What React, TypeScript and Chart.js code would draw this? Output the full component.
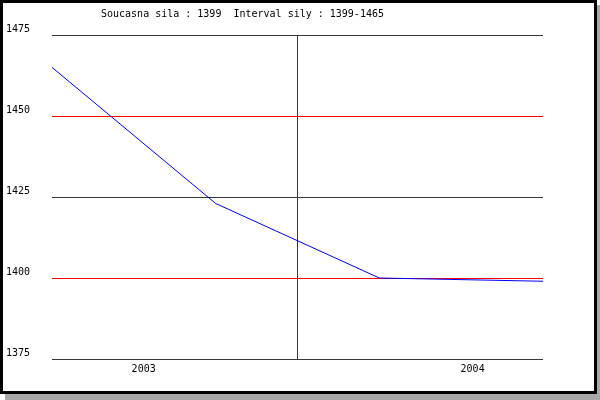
import React, { useEffect, useRef } from "react";
import { Chart, registerables } from "chart.js";

Chart.register(...registerables);

const titleText = "Soucasna sila : 1399  Interval sily : 1399-1465";
const pointIndex = [0, 1, 2, 3];
const ratingValues = [1465, 1423, 1400, 1399];
const yTicks = [1475, 1450, 1425, 1400, 1375];
const redLines = [1450, 1400];
const yearLabels = ["2003", "2004"];
const yearPositions = [0.56, 2.57];
const yearDivider = [1.496];

const MONO = '10px "DejaVu Sans Mono", "Liberation Mono", monospace';

const framePlugin = {
  id: "frame",
  beforeDraw(chart: any) {
    const ctx = chart.ctx;
    const W = chart.width;
    const H = chart.height;
    ctx.save();
    ctx.fillStyle = "#ffffff";
    ctx.fillRect(0, 0, W, H);
    ctx.fillStyle = "#a8a8a8";
    ctx.fillRect(5, 5, W - 5, H - 5);
    ctx.fillStyle = "#000000";
    ctx.fillRect(0, 0, 597, 394);
    ctx.fillStyle = "#ffffff";
    ctx.fillRect(3, 3, 591, 388);

    const ys = chart.scales.y;
    const xs = chart.scales.x;
    const left = chart.chartArea.left;
    const right = chart.chartArea.right;
    const top = chart.chartArea.top;
    const bottom = chart.chartArea.bottom;

    ctx.fillStyle = "#383838";
    yearDivider.forEach((v) => {
      const px = Math.round(xs.getPixelForValue(v));
      ctx.fillRect(px, top, 1, bottom - top);
    });

    yTicks.forEach((v) => {
      const py = Math.round(ys.getPixelForValue(v));
      ctx.fillStyle = redLines.includes(v) ? "#ff0000" : "#383838";
      ctx.fillRect(left, py, right - left, 1);
    });

    ctx.font = MONO;
    ctx.fillStyle = "#000000";
    ctx.textBaseline = "middle";
    ctx.textAlign = "left";
    yTicks.forEach((v) => {
      const py = Math.round(ys.getPixelForValue(v));
      ctx.fillText(String(v), 6, py - 6);
    });
    ctx.textAlign = "center";
    yearLabels.forEach((lab, i) => {
      ctx.fillText(lab, xs.getPixelForValue(yearPositions[i]), 369);
    });
    ctx.textAlign = "left";
    ctx.fillText(titleText, 101, 14);
    ctx.restore();
  },
};

export default function App() {
  const ref = useRef<HTMLCanvasElement | null>(null);
  useEffect(() => {
    if (!ref.current) return;
    const chart = new Chart(ref.current, {
      type: "line",
      data: {
        datasets: [
          {
            data: pointIndex.map((x, i) => ({ x, y: ratingValues[i] })),
            borderColor: "#0000ff",
            borderWidth: 1,
            pointRadius: 0,
            tension: 0,
            fill: false,
          },
        ],
      },
      options: {
        responsive: false,
        animation: false,
        devicePixelRatio: 1,
        layout: { padding: { left: 52, right: 57, top: 35, bottom: 41 } },
        plugins: { legend: { display: false }, tooltip: { enabled: false }, title: { display: false } },
        scales: {
          x: { type: "linear", min: 0, max: 3, display: false },
          y: { type: "linear", min: 1375, max: 1475, display: false },
        },
      },
      plugins: [framePlugin],
    });
    return () => chart.destroy();
  }, []);
  return (
    <div style={{ position: "absolute", left: 0, top: 0, width: 600, height: 400 }}>
      <canvas ref={ref} width={600} height={400} style={{ width: 600, height: 400 }} />
    </div>
  );
}
